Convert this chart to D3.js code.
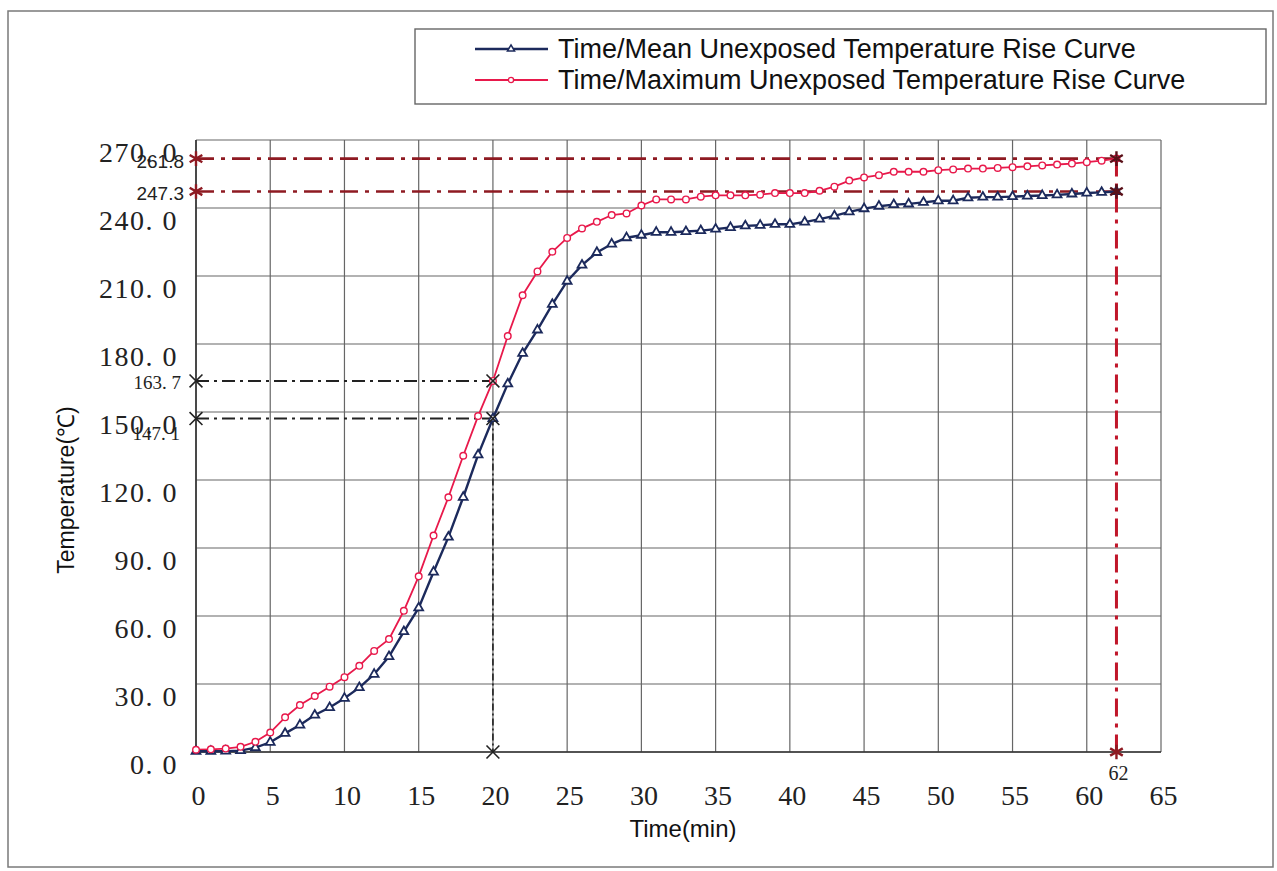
<!DOCTYPE html>
<html>
<head>
<meta charset="utf-8">
<script src="https://cdn.jsdelivr.net/npm/d3@7"></script>
<style>
    html,body{margin:0;padding:0;background:#fff;}
    svg{display:block;}
</style>
</head>
<body>
<div id="chart"></div>
<script>
// values, one point per minute
var minutes = [0,1,2,3,4,5,6,7,8,9,10,11,12,13,14,15,16,17,18,19,20,
    21,22,23,24,25,26,27,28,29,30,31,32,33,34,35,36,37,38,39,40,
    41,42,43,44,45,46,47,48,49,50,51,52,53,54,55,56,57,58,59,60,61,62];

var meanRise = [0.3,0.3,0.4,0.6,1.9,4.3,8.2,11.9,16.3,19.6,23.7,
    28.4,34.3,42.1,53.1,63.6,79.4,94.8,112.4,131.1,147.1,
    162.4,175.9,186.2,197.5,207.7,214.8,220.4,224.1,226.9,228.0,
    229.3,229.3,229.6,230.0,230.7,231.4,232.1,232.4,232.8,232.8,
    233.8,235.1,236.5,238.3,239.7,240.8,241.5,241.8,242.5,243.2,
    243.2,244.5,244.8,244.8,245.0,245.3,245.5,245.8,246.2,246.6,246.9,247.3];

var maxRise = [1.0,1.2,1.5,2.3,4.5,8.6,15.3,20.7,24.7,28.8,33.0,
    38.0,44.6,49.8,62.3,77.5,95.5,112.4,130.7,148.2,163.7,
    183.5,201.5,212.0,220.7,226.8,231.0,233.9,236.9,237.6,241.1,
    243.8,243.8,243.8,245.0,245.6,245.6,245.6,245.9,246.6,246.6,
    246.6,247.6,249.4,252.1,253.5,254.5,256.0,256.0,256.0,256.7,
    257.0,257.4,257.4,257.7,258.0,258.4,258.8,259.2,259.6,260.2,260.9,261.8];

var xTicks = [0,5,10,15,20,25,30,35,40,45,50,55,60,65];
var yTicks = [0,30,60,90,120,150,180,210,240,270];
var yTickLabels = ['0. 0','30. 0','60. 0','90. 0','120. 0','150. 0','180. 0','210. 0','240. 0','270. 0'];

var seriesNames = ['Time/Mean Unexposed Temperature Rise Curve',
    'Time/Maximum Unexposed Temperature Rise Curve'];

// marked readings: at 20 min (black) and at end of test, 62 min (dark red)
var markTimes = [20, 62];
var markMean = [147.1, 247.3];
var markMax = [163.7, 261.8];
var markLabels = ['147. 1', '247.3'];
var markMaxLabels = ['163. 7', '261.8'];

(function(){
    var W = 1277, H = 871;
    var navy = '#1c2a5c', crimson = '#e8194b', darkRed = '#8e1a22';

    var svg = d3.select('#chart').append('svg')
        .attr('width', W).attr('height', H);

    svg.append('rect').attr('width', W).attr('height', H).attr('fill', '#fff');

    // outer frame of the scan
    svg.append('rect')
        .attr('x', 8).attr('y', 11).attr('width', W - 12).attr('height', H - 15)
        .attr('fill', 'none').attr('stroke', '#7a7a7a').attr('stroke-width', 1.5);

    var x = d3.scaleLinear().domain([0, 65]).range([196, 1161]);
    var y = d3.scaleLinear().domain([0, 270]).range([752, 140]);

    //grid
    var grid = svg.append('g');
    grid.selectAll('.vg').data(xTicks).enter().append('line')
        .attr('x1', function(d){ return x(d); }).attr('x2', function(d){ return x(d); })
        .attr('y1', y(0)).attr('y2', y(270))
        .attr('stroke', '#666').attr('stroke-width', 1.2);
    grid.selectAll('.hg').data(yTicks).enter().append('line')
        .attr('x1', x(0)).attr('x2', x(65))
        .attr('y1', function(d){ return y(d); }).attr('y2', function(d){ return y(d); })
        .attr('stroke', '#666').attr('stroke-width', 1.2);

    // axes (labels only, the grid draws the lines)
    var xAxis = svg.append('g').attr('transform', 'translate(0,' + y(0) + ')')
        .call(d3.axisBottom(x).tickValues(xTicks).tickSize(0).tickPadding(33));
    var yAxis = svg.append('g').attr('transform', 'translate(' + x(0) + ',0)')
        .call(d3.axisLeft(y).tickValues(yTicks).tickSize(0).tickPadding(18)
            .tickFormat(function(d, i){ return yTickLabels[i]; }));
    [xAxis, yAxis].forEach(function(g){
        g.select('.domain').remove();
        g.selectAll('text')
            .attr('fill', '#222')
            .style('font-family', '"Liberation Serif", serif')
            .style('font-size', '28px');
    });
    xAxis.selectAll('text').attr('dx', 2);
    yAxis.selectAll('text').attr('dy', '0.76em').style('letter-spacing', '1.5px');

    svg.append('line')
        .attr('x1', x(0)).attr('x2', x(0)).attr('y1', y(0)).attr('y2', y(270))
        .attr('stroke', '#333').attr('stroke-width', 1.6);
    svg.append('line')
        .attr('x1', x(0)).attr('x2', x(65)).attr('y1', y(0)).attr('y2', y(0))
        .attr('stroke', '#333').attr('stroke-width', 1.6);

    svg.append('text').text('Time(min)')
        .attr('x', 683).attr('y', 837).attr('text-anchor', 'middle')
        .style('font-family', '"Liberation Sans", Arial, sans-serif')
        .style('font-size', '24px').attr('fill', '#111');
    svg.append('text').text('Temperature(\u2103)')
        .attr('transform', 'translate(74,490) rotate(-90)').attr('text-anchor', 'middle')
        .style('font-family', '"Liberation Sans", Arial, sans-serif')
        .style('font-size', '23px').attr('fill', '#111');

    // reference lines for the marked readings
    var refs = svg.append('g');
    function refLine(x1, y1, x2, y2, color, width, dash){
        refs.append('line')
            .attr('x1', x1).attr('y1', y1).attr('x2', x2).attr('y2', y2)
            .attr('stroke', color).attr('stroke-width', width)
            .attr('stroke-dasharray', dash);
    }
    // 20 min, black
    refLine(x(0), y(markMax[0]), x(markTimes[0]), y(markMax[0]), '#222', 2, '13,5,3,5');
    refLine(x(0), y(markMean[0]), x(markTimes[0]), y(markMean[0]), '#222', 2, '13,5,3,5');
    refLine(x(markTimes[0]), y(markMean[0]), x(markTimes[0]), y(0), '#222', 1.6, '7,3,2,3');
    // 62 min, dark red
    refLine(x(0), y(markMax[1]), x(markTimes[1]), y(markMax[1]), darkRed, 2.6, '18,7,4,7');
    refLine(x(0), y(markMean[1]), x(markTimes[1]), y(markMean[1]), darkRed, 2.6, '18,7,4,7');
    refLine(x(markTimes[1]), y(markMax[1]), x(markTimes[1]), y(0), '#c0162a', 3, '18,7,4,7');

    // series
    var line = d3.line()
        .x(function(d){ return x(d[0]); })
        .y(function(d){ return y(d[1]); });
    var meanPts = minutes.map(function(t, i){ return [t, meanRise[i]]; });
    var maxPts = minutes.map(function(t, i){ return [t, maxRise[i]]; });

    svg.append('path').datum(maxPts).attr('d', line)
        .attr('fill', 'none').attr('stroke', crimson).attr('stroke-width', 1.8);
    svg.append('path').datum(meanPts).attr('d', line)
        .attr('fill', 'none').attr('stroke', navy).attr('stroke-width', 2.4);

    var tri = d3.symbol(d3.symbolTriangle, 34);
    svg.append('g').selectAll('path').data(meanPts).enter().append('path')
        .attr('d', tri)
        .attr('transform', function(d){ return 'translate(' + x(d[0]) + ',' + y(d[1]) + ')'; })
        .attr('fill', '#fff').attr('stroke', navy).attr('stroke-width', 1.8);
    svg.append('g').selectAll('circle').data(maxPts).enter().append('circle')
        .attr('cx', function(d){ return x(d[0]); })
        .attr('cy', function(d){ return y(d[1]); })
        .attr('r', 3.3)
        .attr('fill', '#fff').attr('stroke', crimson).attr('stroke-width', 1.4);

    // cross / star markers
    var times = d3.symbol(d3.symbolTimes, 110);
    var star = d3.symbol(d3.symbolAsterisk, 150);
    function mark(px, py, sym, color, w){
        svg.append('path').attr('d', sym)
            .attr('transform', 'translate(' + px + ',' + py + ')')
            .attr('fill', 'none').attr('stroke', color).attr('stroke-width', w);
    }
    [markMax[0], markMean[0]].forEach(function(v){
        mark(x(0), y(v), times, '#222', 1.6);
        mark(x(markTimes[0]), y(v), times, '#222', 1.6);
    });
    mark(x(markTimes[0]), y(0), times, '#222', 1.6);
    [markMax[1], markMean[1]].forEach(function(v){
        mark(x(0), y(v), star, darkRed, 2.4);
        mark(x(markTimes[1]), y(v), star, '#5a1018', 2.4);
    });
    mark(x(markTimes[1]), y(0), star, darkRed, 2.4);

    // reading labels at the y axis
    var lab = svg.append('g').attr('fill', '#222');
    lab.append('text').text(markMaxLabels[1]).attr('x', 184).attr('y', 168).attr('text-anchor', 'end')
        .style('font-family', '"Liberation Sans", Arial, sans-serif').style('font-size', '19px');
    lab.append('text').text(markLabels[1]).attr('x', 184).attr('y', 200).attr('text-anchor', 'end')
        .style('font-family', '"Liberation Sans", Arial, sans-serif').style('font-size', '19px');
    lab.append('text').text(markMaxLabels[0]).attr('x', 181).attr('y', 389).attr('text-anchor', 'end')
        .style('font-family', '"Liberation Serif", serif').style('font-size', '19px');
    lab.append('text').text(markLabels[0]).attr('x', 180).attr('y', 440).attr('text-anchor', 'end')
        .style('font-family', '"Liberation Serif", serif').style('font-size', '19px');
    lab.append('text').text(String(markTimes[1])).attr('x', x(markTimes[1]) + 2).attr('y', 780)
        .attr('text-anchor', 'middle')
        .style('font-family', '"Liberation Serif", serif').style('font-size', '20px');

    // legend
    var lg = svg.append('g');
    lg.append('rect').attr('x', 415).attr('y', 29).attr('width', 851).attr('height', 75)
        .attr('fill', '#fff').attr('stroke', '#666').attr('stroke-width', 1.4);
    var rows = [{name: seriesNames[0], color: navy, y: 49, kind: 'tri'},
                {name: seriesNames[1], color: crimson, y: 80, kind: 'circ'}];
    rows.forEach(function(r){
        lg.append('line').attr('x1', 475).attr('x2', 548).attr('y1', r.y).attr('y2', r.y)
            .attr('stroke', r.color).attr('stroke-width', r.kind === 'tri' ? 2.4 : 1.8);
        if (r.kind === 'tri') {
            lg.append('path').attr('d', d3.symbol(d3.symbolTriangle, 22))
                .attr('transform', 'translate(511,' + r.y + ')')
                .attr('fill', '#fff').attr('stroke', r.color).attr('stroke-width', 1.5);
        } else {
            lg.append('circle').attr('cx', 511).attr('cy', r.y).attr('r', 2.6)
                .attr('fill', '#fff').attr('stroke', r.color).attr('stroke-width', 1.3);
        }
        lg.append('text').text(r.name).attr('x', 558).attr('y', r.y + 9)
            .style('font-family', '"Liberation Sans", Arial, sans-serif')
            .style('font-size', '27px').attr('fill', '#111');
    });
})();
</script>
</body>
</html>
